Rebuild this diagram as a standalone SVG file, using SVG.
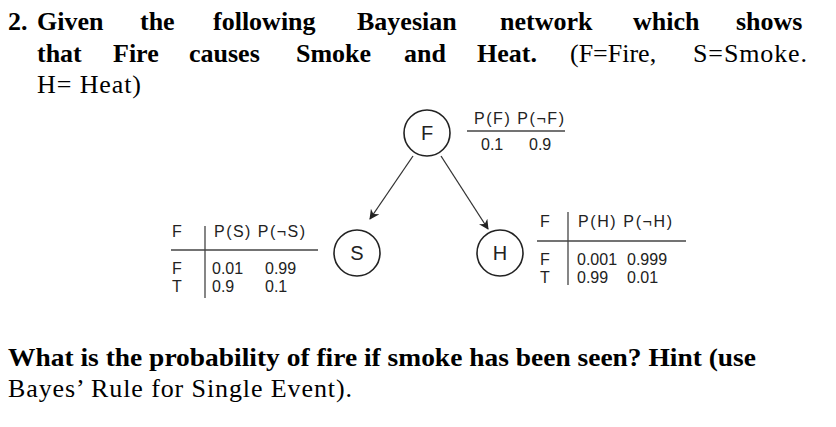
<svg xmlns="http://www.w3.org/2000/svg" width="836" height="427" viewBox="0 0 836 427">
<style>
.q{font-family:"Liberation Serif",serif;font-size:26px;fill:#000}
.b{font-weight:bold}
.t{font-family:"Liberation Sans",Arial,sans-serif;font-size:16px;fill:#222}
.n{font-family:"Liberation Sans",Arial,sans-serif;font-size:20px;fill:#222;text-anchor:middle}
.c{fill:#fff;stroke:#222;stroke-width:1.6}
.l{stroke:#444;stroke-width:1.3}
</style>
<defs><marker id="a" markerWidth="10" markerHeight="10" refX="9" refY="5" orient="auto" markerUnits="userSpaceOnUse"><path d="M0,0 L10,5 L0,10 L3,5 Z" fill="#222"/></marker></defs>
<rect width="836" height="427" fill="#fff"/>
<g class="q b">
<text x="8" y="30">2.</text><text x="37" y="30">Given</text><text x="140" y="30">the</text><text x="213" y="30">following</text><text x="357" y="30">Bayesian</text><text x="500" y="30">network</text><text x="633" y="30">which</text><text x="736" y="30">shows</text>
<text x="37" y="62">that</text><text x="113" y="62">Fire</text><text x="189" y="62">causes</text><text x="296" y="62">Smoke</text><text x="404" y="62">and</text><text x="477" y="62">Heat.</text>
</g>
<text class="q" x="570" y="62">(F=Fire,</text><text class="q" x="693" y="62" textLength="114">S=Smoke.</text>
<text class="q" x="37" y="93" textLength="104">H= Heat)</text>
<text class="q b" x="8" y="366" textLength="748" lengthAdjust="spacingAndGlyphs">What is the probability of fire if  smoke has been seen? Hint (use</text>
<text class="q" x="8" y="397" textLength="344">Bayes’ Rule for Single Event).</text>
<g id="connectors" stroke="#333" stroke-width="1.3">
<line x1="413" y1="156" x2="370" y2="219" marker-end="url(#a)"/>
<line x1="441" y1="156" x2="488" y2="229" marker-end="url(#a)"/>
</g>
<g id="nodeF"><circle class="c" cx="427" cy="133" r="23"/><text class="n" x="427" y="140">F</text></g>
<g id="nodeS"><circle class="c" cx="357" cy="253" r="23"/><text class="n" x="357" y="260">S</text></g>
<g id="nodeH"><circle class="c" cx="500" cy="253" r="23"/><text class="n" x="500" y="260">H</text></g>
<g id="cptF">
<text class="t" x="474" y="124" textLength="90">P(F) P(¬F)</text>
<line class="l" x1="467" y1="131" x2="565" y2="131"/>
<text class="t" x="481" y="150">0.1</text><text class="t" x="529" y="150">0.9</text>
</g>
<g id="cptS">
<text class="t" x="172" y="237">F</text><text class="t" x="214" y="237" textLength="91">P(S) P(¬S)</text>
<line class="l" x1="205" y1="226" x2="205" y2="298"/>
<line class="l" x1="171" y1="250" x2="318" y2="250"/>
<text class="t" x="172" y="274">F</text><text class="t" x="212" y="274">0.01</text><text class="t" x="265" y="274">0.99</text>
<text class="t" x="172" y="292">T</text><text class="t" x="212" y="292">0.9</text><text class="t" x="265" y="292">0.1</text>
</g>
<g id="cptH">
<text class="t" x="540" y="227">F</text><text class="t" x="578" y="227" textLength="94">P(H) P(¬H)</text>
<line class="l" x1="568" y1="212" x2="568" y2="285"/>
<line class="l" x1="537" y1="241" x2="686" y2="241"/>
<text class="t" x="540" y="265">F</text><text class="t" x="577" y="265">0.001</text><text class="t" x="627" y="265">0.999</text>
<text class="t" x="540" y="283">T</text><text class="t" x="577" y="283">0.99</text><text class="t" x="627" y="283">0.01</text>
</g>
</svg>
